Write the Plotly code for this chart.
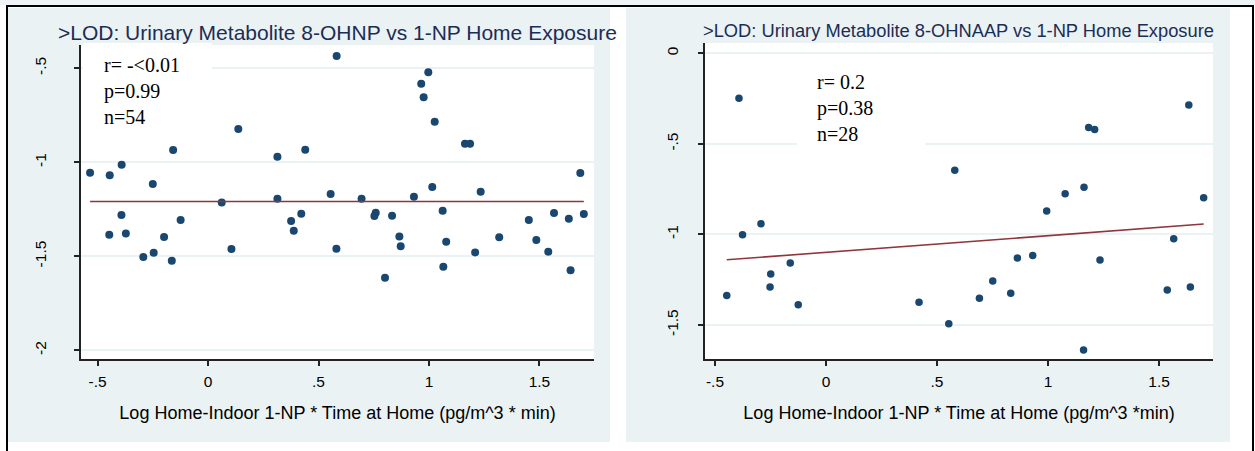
import plotly.graph_objects as go

# ---------------- data ----------------
x1 = [-0.534, -0.445, -0.391, -0.250, -0.158, 0.137, 0.314, 0.440, 0.555, 0.582,
      0.062, 0.314, -0.392, -0.124, 0.422, 0.376, 0.388, -0.447, -0.372, -0.199,
      0.106, 0.581, -0.293, -0.246, -0.164, 0.997, 0.965, 0.976, 1.026, 1.163,
      1.186, 1.685, 0.695, 0.932, 1.015, 1.234, 1.062, 0.759, 0.753, 0.833,
      1.566, 1.701, 1.452, 1.633, 0.866, 0.872, 1.078, 1.318, 1.486, 1.209,
      1.540, 1.065, 0.801, 1.641]
y1 = [-1.055, -1.069, -1.013, -1.115, -0.935, -0.823, -0.970, -0.933, -1.169, -0.435,
      -1.213, -1.194, -1.280, -1.307, -1.273, -1.312, -1.364, -1.385, -1.378, -1.397,
      -1.461, -1.459, -1.504, -1.481, -1.523, -0.521, -0.582, -0.654, -0.784, -0.901,
      -0.901, -1.057, -1.194, -1.183, -1.131, -1.156, -1.257, -1.268, -1.286, -1.284,
      -1.270, -1.275, -1.307, -1.300, -1.394, -1.447, -1.422, -1.399, -1.413, -1.479,
      -1.475, -1.555, -1.614, -1.574]
fit1_intercept = -1.208
fit1_slope = 0.0

x2 = [-0.392, -0.376, -0.293, -0.161, -0.249, -0.252, -0.447, -0.125, 0.419, 0.553,
      0.580, 1.634, 1.183, 1.210, 1.701, 1.162, 1.077, 0.994, 1.566, 0.862,
      0.931, 1.234, 0.751, 0.832, 0.691, 1.537, 1.641, 1.160]
y2 = [-0.248, -1.002, -0.941, -1.158, -1.219, -1.290, -1.337, -1.388, -1.375, -1.493,
      -0.646, -0.285, -0.409, -0.420, -0.797, -0.740, -0.775, -0.871, -1.024, -1.130,
      -1.117, -1.141, -1.257, -1.325, -1.353, -1.307, -1.290, -1.638]
fit2_intercept = -1.099
fit2_slope = 0.0918

x_tickvals = [-0.5, 0, 0.5, 1, 1.5]
x_ticktext = ["-.5", "0", ".5", "1", "1.5"]
y1_tickvals = [-2, -1.5, -1, -0.5]
y1_ticktext = ["-2", "-1.5", "-1", "-.5"]
y2_tickvals = [-1.5, -1, -0.5, 0]
y2_ticktext = ["-1.5", "-1", "-.5", "0"]

title1 = ">LOD: Urinary Metabolite 8-OHNP vs 1-NP Home Exposure"
title2 = ">LOD: Urinary Metabolite 8-OHNAAP vs 1-NP Home Exposure"
xtitle1 = "Log Home-Indoor 1-NP * Time at Home (pg/m^3 * min)"
xtitle2 = "Log Home-Indoor 1-NP * Time at Home (pg/m^3 *min)"
stats1 = "r= -<0.01<br>p=0.99<br>n=54"
stats2 = "r= 0.2<br>p=0.38<br>n=28"

# ---------------- style ----------------
W, H = 1255, 451
BG = "#eaf2f3"
NAVY = "#1a476f"
MAROON = "#90353b"
TITLE_C = "#1c2d55"
SANS = "Liberation Sans, Arial, sans-serif"
SERIF = "Liberation Serif, Times New Roman, serif"

def px(x):
    return x / W

def py(y):
    return 1 - y / H

fig = go.Figure()

fig.add_trace(go.Scatter(x=x1, y=y1, mode="markers", xaxis="x", yaxis="y",
                         marker=dict(color=NAVY, size=8), showlegend=False))
fx1 = [min(x1), max(x1)]
fig.add_trace(go.Scatter(x=fx1, y=[fit1_intercept + fit1_slope * v for v in fx1],
                         mode="lines", xaxis="x", yaxis="y",
                         line=dict(color=MAROON, width=1.6), showlegend=False))

fig.add_trace(go.Scatter(x=x2, y=y2, mode="markers", xaxis="x2", yaxis="y2",
                         marker=dict(color=NAVY, size=7.5), showlegend=False))
fx2 = [min(x2), max(x2)]
fig.add_trace(go.Scatter(x=fx2, y=[fit2_intercept + fit2_slope * v for v in fx2],
                         mode="lines", xaxis="x2", yaxis="y2",
                         line=dict(color=MAROON, width=1.6), showlegend=False))

axis_common = dict(showline=True, linecolor="#222222", linewidth=1.5,
                   ticks="outside", ticklen=5, tickwidth=1.5, tickcolor="#222222",
                   tickfont=dict(family=SANS, size=15.5, color="black"),
                   zeroline=False, mirror=False)

fig.update_layout(
    width=W, height=H,
    margin=dict(l=0, r=0, t=0, b=0),
    paper_bgcolor="white",
    plot_bgcolor="white",
    showlegend=False,
    xaxis=dict(domain=[px(81), px(594)], range=[-0.575, 1.747], anchor="y",
               tickvals=x_tickvals, ticktext=x_ticktext, showgrid=False,
               ticklabelstandoff=3,
               title=dict(text=xtitle1, font=dict(family=SANS, size=18, color="black"),
                          standoff=17),
               **axis_common),
    yaxis=dict(domain=[py(359), py(45)], range=[-2.046, -0.376], anchor="x",
               tickvals=y1_tickvals, ticktext=y1_ticktext, tickangle=-90,
               showgrid=True, gridcolor=BG, gridwidth=1.5,
               ticklabelstandoff=22,
               **axis_common),
    xaxis2=dict(domain=[px(705), px(1213)], range=[-0.545, 1.743], anchor="y2",
                tickvals=x_tickvals, ticktext=x_ticktext, showgrid=False,
                ticklabelstandoff=3,
                title=dict(text=xtitle2, font=dict(family=SANS, size=18, color="black"),
                           standoff=17),
                **axis_common),
    yaxis2=dict(domain=[py(359), py(43)], range=[-1.688, 0.057], anchor="x2",
                tickvals=y2_tickvals, ticktext=y2_ticktext, tickangle=-90,
                showgrid=True, gridcolor=BG, gridwidth=1.5,
                ticklabelstandoff=14,
                **axis_common),
)

shapes = [
    # light strip at very top
    dict(type="rect", xref="paper", yref="paper", x0=0, x1=1, y0=py(5), y1=1,
         fillcolor="#eef3f5", line=dict(width=0), layer="below"),
    # panel backgrounds
    dict(type="rect", xref="paper", yref="paper", x0=px(8), x1=px(610), y0=py(442), y1=py(8),
         fillcolor=BG, line=dict(width=0), layer="below"),
    dict(type="rect", xref="paper", yref="paper", x0=px(626), x1=px(1230), y0=py(442), y1=py(8),
         fillcolor=BG, line=dict(width=0), layer="below"),
    # white plot regions
    dict(type="rect", xref="paper", yref="paper", x0=px(81), x1=px(594), y0=py(359), y1=py(45),
         fillcolor="white", line=dict(width=0), layer="below"),
    dict(type="rect", xref="paper", yref="paper", x0=px(705), x1=px(1213), y0=py(359), y1=py(43),
         fillcolor="white", line=dict(width=0), layer="below"),
    # white boxes behind stats text (cover gridlines)
    dict(type="rect", xref="paper", yref="paper", x0=px(82.5), x1=px(212), y0=py(135), y1=py(43),
         fillcolor="white", line=dict(width=0), layer="above"),
    dict(type="rect", xref="paper", yref="paper", x0=px(797), x1=px(925), y0=py(150), y1=py(60),
         fillcolor="white", line=dict(width=0), layer="above"),
    # outer black frame
    dict(type="line", xref="paper", yref="paper", x0=px(6), x1=px(1254), y0=py(6), y1=py(6),
         line=dict(color="black", width=2), layer="above"),
    dict(type="line", xref="paper", yref="paper", x0=px(7), x1=px(7), y0=0, y1=py(6),
         line=dict(color="black", width=2), layer="above"),
    dict(type="line", xref="paper", yref="paper", x0=px(1253), x1=px(1253), y0=0, y1=py(6),
         line=dict(color="black", width=2), layer="above"),
]
fig.update_layout(shapes=shapes)

annotations = [
    dict(text=title1, xref="paper", yref="paper", x=px(337.5), y=py(33),
         xanchor="center", yanchor="middle", showarrow=False,
         font=dict(family=SANS, size=21, color=TITLE_C)),
    dict(text=title2, xref="paper", yref="paper", x=px(958.5), y=py(31),
         xanchor="center", yanchor="middle", showarrow=False,
         font=dict(family=SANS, size=18.3, color=TITLE_C)),
    dict(text=stats1, xref="paper", yref="paper", x=px(102), y=py(91),
         xanchor="left", yanchor="middle", showarrow=False, align="left",
         font=dict(family=SERIF, size=20, color="black")),
    dict(text=stats2, xref="paper", yref="paper", x=px(815), y=py(107.5),
         xanchor="left", yanchor="middle", showarrow=False, align="left",
         font=dict(family=SERIF, size=20, color="black")),
]
fig.update_layout(annotations=annotations)

fig.write_html("out.html")
